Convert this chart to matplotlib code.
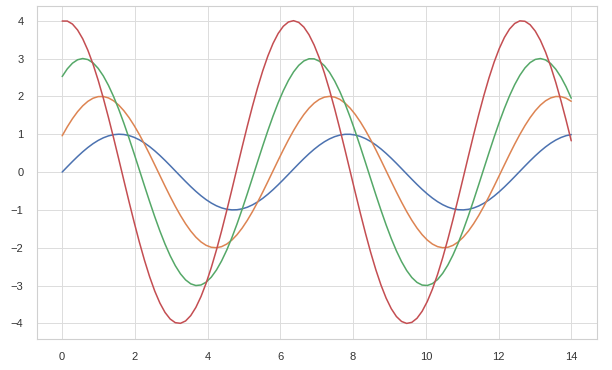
import numpy as np
import seaborn as sns
import matplotlib
matplotlib.use("Agg")
import matplotlib.pyplot as plt

# sine series: amplitude and phase shift of each curve
amplitudes = [1, 2, 3, 4]
phase_shifts = [0.0, 0.5, 1.0, 1.5]
x_start, x_end, n_points = 0, 14, 100

sns.set_theme(style="whitegrid")
plt.rcParams["font.family"] = ["Liberation Sans", "DejaVu Sans"]

fig, ax = plt.subplots(figsize=(6.12, 3.70), dpi=100)
x = np.linspace(x_start, x_end, n_points)
for amp, shift in zip(amplitudes, phase_shifts):
    ax.plot(x, amp * np.sin(x + shift), lw=1.1)

ax.grid(lw=0.7, color="#dcdcdc")
for sp in ax.spines.values():
    sp.set_linewidth(0.8)
    sp.set_color("#d0d0d0")
ax.tick_params(labelsize=8, colors="#333333")
fig.subplots_adjust(left=0.06, right=0.975, top=0.985, bottom=0.085)
fig.savefig("out.png", dpi=100)
